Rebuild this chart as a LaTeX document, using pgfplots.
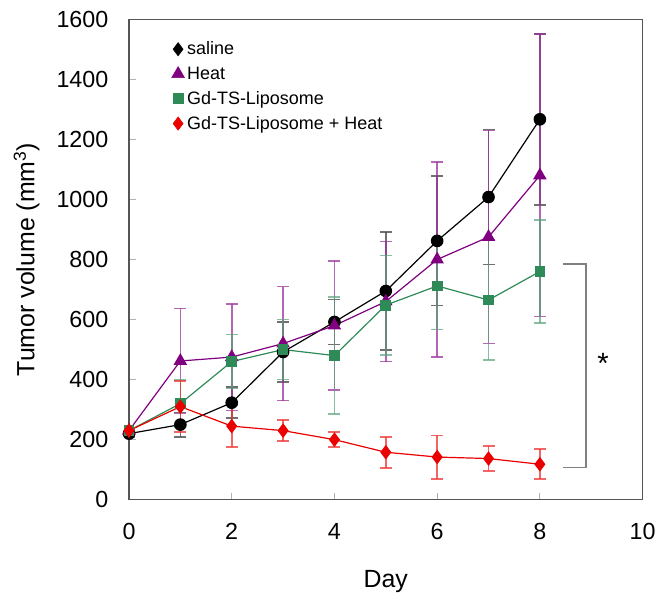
\documentclass[border=0pt]{standalone}
\usepackage{fontspec}
\setmainfont{Liberation Sans}
\usepackage{pgfplots}
\pgfplotsset{compat=1.18}
\definecolor{cSal}{RGB}{0,0,0}
\definecolor{cHeat}{RGB}{128,0,128}
\definecolor{cGd}{RGB}{46,139,87}
\definecolor{cRed}{RGB}{235,0,0}
\definecolor{axgray}{RGB}{85,85,85}

\begin{document}
\begin{tikzpicture}
\begin{axis}[
  width=386pt, height=361pt,
  scale only axis,
  xmin=0, xmax=10, ymin=0, ymax=1600,
  xtick={0,2,...,10}, ytick={0,200,...,1600},
  axis line style={axgray, line width=1.2pt},
  tick style={gray!60, line width=0.6pt},
  major tick length=5pt,
  tick align=inside,
  xtick pos=bottom, ytick pos=left,
  /pgf/number format/assume math mode=true,
  /pgf/number format/1000 sep={},
  tick label style={font=\fontsize{17.5}{20}\selectfont},
  xticklabel style={yshift=-14pt},
  yticklabel style={xshift=-12pt},
  xlabel={Day}, ylabel={Tumor volume (mm\textsuperscript{3})},
  label style={font=\fontsize{18.7}{21}\selectfont},
  xlabel style={yshift=-16pt},
  ylabel style={yshift=6pt},
  legend style={at={(0.075,0.965)}, anchor=north west, draw=none, fill=none,
    font=\fontsize{13.5}{15}\selectfont, row sep=3.5pt,
    /tikz/every even column/.append style={column sep=2pt}},
  legend cell align=left,
  legend image code/.code={\draw[#1] plot coordinates {(0.2cm,0cm)};},
  error bars/y dir=both, error bars/y explicit,
]
\addlegendimage{only marks, mark=diamond*, black, mark size=5pt}
\addlegendentry{saline}
\addlegendimage{only marks, mark=triangle*, cHeat, mark size=5.5pt}
\addlegendentry{Heat}
\addlegendimage{only marks, mark=square*, cGd, mark size=3.8pt}
\addlegendentry{Gd-TS-Liposome}
\addlegendimage{only marks, mark=diamond*, cRed, mark size=5pt}
\addlegendentry{Gd-TS-Liposome + Heat}

% saline
\addplot[forget plot, black, line width=0.9pt, mark=*, mark size=4.3pt,
  error bars/error bar style={black!70, opacity=0.8, line width=1.2pt},
  error bars/error mark options={rotate=90, mark size=4.5pt, black!70, line width=1.3pt}]
  coordinates {
  (0,220) +- (0,12) (1,250) +- (0,40) (2,323) +- (0,52) (3,492) +- (0,100)
  (4,592) +- (0,75) (5,695) +- (0,197) (6,862) +- (0,215) (7,1008) +- (0,225)
  (8,1267) +- (0,285)};
% Heat
\addplot[forget plot, cHeat, line width=0.9pt, mark=triangle*, mark size=5pt,
  error bars/error bar style={cHeat!80, opacity=0.75, line width=1.2pt},
  error bars/error mark options={rotate=90, mark size=4.5pt, cHeat!80, line width=1.3pt}]
  coordinates {
  (0,230) +- (0,10) (1,462) +- (0,175) (2,475) +- (0,178) (3,520) +- (0,190)
  (4,580) +- (0,215) (5,660) +- (0,200) (6,800) +- (0,325) (7,875) +- (0,355)
  (8,1080) +- (0,470)};
% Gd-TS-Liposome
\addplot[forget plot, cGd, line width=0.9pt, mark=square*, mark size=3.6pt,
  error bars/error bar style={cGd!80, opacity=0.7, line width=1.2pt},
  error bars/error mark options={rotate=90, mark size=4.5pt, cGd!80, line width=1.3pt}]
  coordinates {
  (0,230) +- (0,10) (1,320) +- (0,78) (2,460) +- (0,90) (3,500) +- (0,100)
  (4,480) +- (0,195) (5,648) +- (0,165) (6,712) +- (0,145) (7,665) +- (0,200)
  (8,760) +- (0,172)};
% Gd-TS-Liposome + Heat
\addplot[forget plot, cRed, line width=0.9pt, mark=diamond*, mark size=4.8pt,
  error bars/error bar style={cRed!80, opacity=0.75, line width=1.2pt},
  error bars/error mark options={rotate=90, mark size=4.5pt, cRed!80, line width=1.3pt}]
  coordinates {
  (0,230) +- (0,10) (1,310) +- (0,85) (2,245) +- (0,70) (3,230) +- (0,35)
  (4,200) +- (0,25) (5,158) +- (0,52) (6,142) +- (0,72) (7,137) +- (0,42)
  (8,118) +- (0,50)};

\draw[gray, line width=1pt] (axis cs:8.45,785) -- (axis cs:8.9,785) -- (axis cs:8.9,108) -- (axis cs:8.45,108);
\node[font=\fontsize{22}{24}\selectfont] at (axis cs:9.23,455) {*};
\end{axis}
\path (current bounding box.west) ++(-7pt,0);
\path (current bounding box.north) ++(0,5pt);
\end{tikzpicture}
\end{document}
